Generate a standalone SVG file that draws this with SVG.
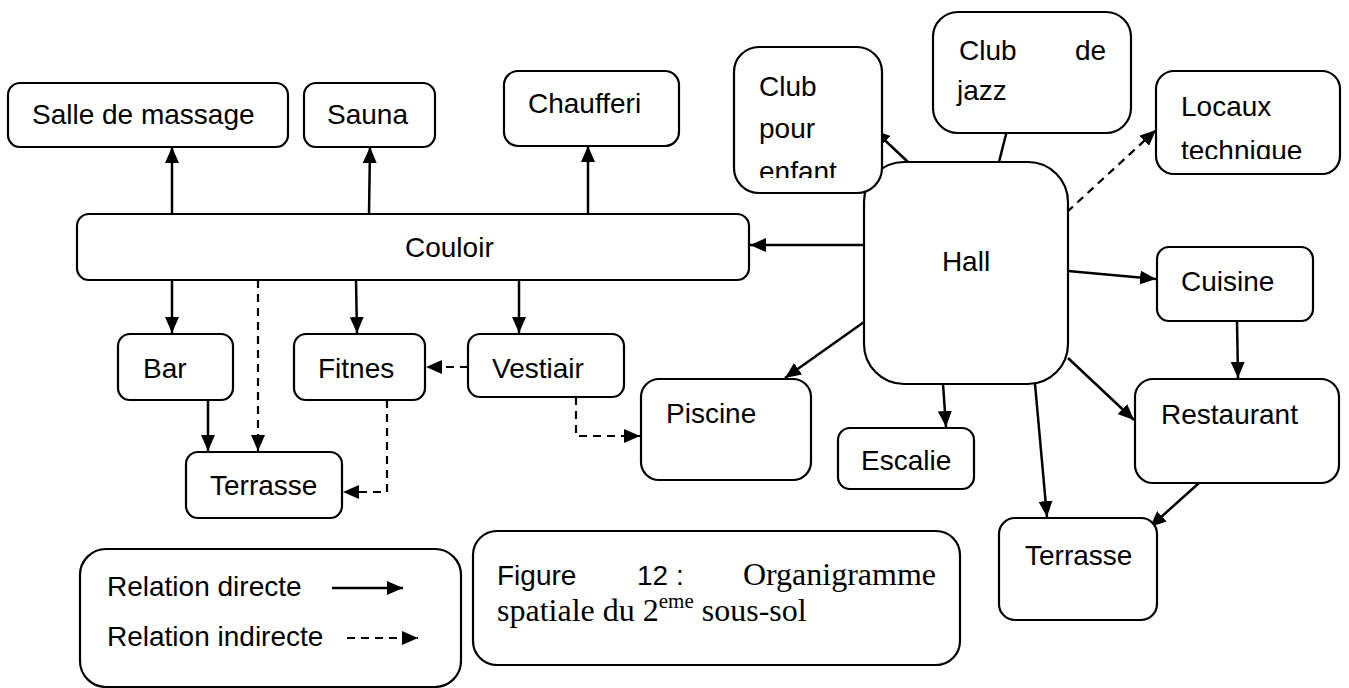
<svg xmlns="http://www.w3.org/2000/svg" width="1349" height="688" viewBox="0 0 1349 688">
<style>
.box{fill:#fff;stroke:#000;stroke-width:2.2}
.t{font-family:"Liberation Sans",Arial,sans-serif;font-size:28px;fill:#000}
.tm{font-family:"Liberation Serif","Times New Roman",serif;font-size:32px;fill:#000}
.c{fill:none;stroke:#000;stroke-width:2.5}
.d{fill:none;stroke:#000;stroke-width:2.2;stroke-dasharray:8,6}
</style>
<defs>
<marker id="ah" markerUnits="userSpaceOnUse" markerWidth="16" markerHeight="14" refX="16" refY="7" orient="auto">
<path d="M0,0 L16,7 L0,14 z" fill="#000"/>
</marker>
<clipPath id="clipClub"><rect x="734" y="47" width="148" height="131"/></clipPath>
<clipPath id="clipLoc"><rect x="1156" y="71" width="184" height="88"/></clipPath>
</defs>

<g id="connectors">
<line class="c" x1="172" y1="214" x2="172" y2="147" marker-end="url(#ah)"/>
<line class="c" x1="369" y1="214" x2="370" y2="147" marker-end="url(#ah)"/>
<line class="c" x1="588" y1="214" x2="588" y2="146" marker-end="url(#ah)"/>
<line class="c" x1="864" y1="245" x2="750" y2="245" marker-end="url(#ah)"/>
<line class="c" x1="172" y1="280" x2="172" y2="333" marker-end="url(#ah)"/>
<line class="c" x1="356" y1="280" x2="357" y2="333" marker-end="url(#ah)"/>
<line class="c" x1="519" y1="280" x2="519" y2="333" marker-end="url(#ah)"/>
<line class="d" x1="258" y1="280" x2="258" y2="451" marker-end="url(#ah)"/>
<line class="c" x1="208" y1="400" x2="208" y2="451" marker-end="url(#ah)"/>
<polyline class="d" points="387,400 387,492 343,492" marker-end="url(#ah)"/>
<line class="d" x1="468" y1="367" x2="426" y2="367" marker-end="url(#ah)"/>
<polyline class="d" points="576,397 576,436 640,436" marker-end="url(#ah)"/>
<line class="c" x1="908" y1="162" x2="874" y2="130" marker-end="url(#ah)"/>
<line class="c" x1="999" y1="162" x2="1019" y2="83" marker-end="url(#ah)"/>
<line class="d" x1="1067" y1="212" x2="1156" y2="130" marker-end="url(#ah)"/>
<line class="c" x1="1068" y1="271" x2="1156" y2="279" marker-end="url(#ah)"/>
<line class="c" x1="1237" y1="321" x2="1238" y2="378" marker-end="url(#ah)"/>
<line class="c" x1="1068" y1="358" x2="1134" y2="420" marker-end="url(#ah)"/>
<line class="c" x1="1035" y1="384" x2="1047" y2="517" marker-end="url(#ah)"/>
<line class="c" x1="1199" y1="483" x2="1150" y2="527" marker-end="url(#ah)"/>
<line class="c" x1="943" y1="384" x2="946" y2="427" marker-end="url(#ah)"/>
<line class="c" x1="864" y1="322" x2="785" y2="378" marker-end="url(#ah)"/>
</g>

<g id="salle"><rect class="box" x="8" y="83" width="280" height="64" rx="12"/><text class="t" x="32" y="124">Salle de massage</text></g>
<g id="sauna"><rect class="box" x="304" y="83" width="131" height="64" rx="12"/><text class="t" x="327" y="124">Sauna</text></g>
<g id="chaufferi"><rect class="box" x="504" y="71" width="175" height="75" rx="14"/><text class="t" x="528" y="113">Chaufferi</text></g>
<g id="couloir"><rect class="box" x="77" y="214" width="672" height="66" rx="12"/><text class="t" x="405" y="257">Couloir</text></g>
<g id="bar"><rect class="box" x="118" y="334" width="115" height="66" rx="12"/><text class="t" x="143" y="378">Bar</text></g>
<g id="fitnes"><rect class="box" x="294" y="334" width="131" height="66" rx="12"/><text class="t" x="318" y="378">Fitnes</text></g>
<g id="vestiair"><rect class="box" x="468" y="334" width="156" height="63" rx="12"/><text class="t" x="492" y="378">Vestiair</text></g>
<g id="terrasse1"><rect class="box" x="186" y="452" width="156" height="66" rx="12"/><text class="t" x="210" y="495">Terrasse</text></g>
<g id="piscine"><rect class="box" x="641" y="379" width="170" height="101" rx="18"/><text class="t" x="666" y="423">Piscine</text></g>
<g id="escalie"><rect class="box" x="838" y="428" width="136" height="61" rx="12"/><text class="t" x="861" y="470">Escalie</text></g>
<g id="hall"><rect class="box" x="864" y="162" width="204" height="222" rx="40"/><text class="t" x="966" y="271" text-anchor="middle">Hall</text></g>
<g id="clubenfant"><rect class="box" x="734" y="47" width="148" height="146" rx="25"/>
<g clip-path="url(#clipClub)"><text class="t" x="759" y="96">Club</text><text class="t" x="759" y="138">pour</text><text class="t" x="759" y="181">enfant</text></g></g>
<g id="clubjazz"><rect class="box" x="933" y="12" width="198" height="121" rx="25"/><text class="t" x="959" y="60">Club</text><text class="t" x="1075" y="60">de</text><text class="t" x="957" y="100">jazz</text></g>
<g id="locaux"><rect class="box" x="1156" y="71" width="184" height="103" rx="18"/>
<g clip-path="url(#clipLoc)"><text class="t" x="1181" y="116">Locaux</text><text class="t" x="1181" y="160">technique</text></g></g>
<g id="cuisine"><rect class="box" x="1157" y="247" width="156" height="74" rx="12"/><text class="t" x="1181" y="291">Cuisine</text></g>
<g id="restaurant"><rect class="box" x="1135" y="379" width="204" height="104" rx="18"/><text class="t" x="1161" y="424">Restaurant</text></g>
<g id="terrasse2"><rect class="box" x="999" y="518" width="158" height="102" rx="16"/><text class="t" x="1025" y="565">Terrasse</text></g>

<g id="legend"><rect class="box" x="80" y="549" width="381" height="138" rx="26"/>
<text class="t" x="107" y="596">Relation directe</text>
<line class="c" x1="332" y1="588" x2="403" y2="588" marker-end="url(#ah)"/>
<text class="t" x="107" y="646">Relation indirecte</text>
<line class="d" x1="347" y1="638" x2="418" y2="638" marker-end="url(#ah)"/>
</g>
<g id="caption"><rect class="box" x="473" y="531" width="487" height="134" rx="24"/>
<text class="t" x="497" y="585">Figure</text><text class="t" x="637" y="585">12 :</text><text class="tm" x="936" y="585" text-anchor="end">Organigramme</text>
<text class="tm" x="497" y="621">spatiale du 2<tspan font-size="21" dy="-13">eme</tspan><tspan dy="13"> sous-sol</tspan></text>
</g>
</svg>
